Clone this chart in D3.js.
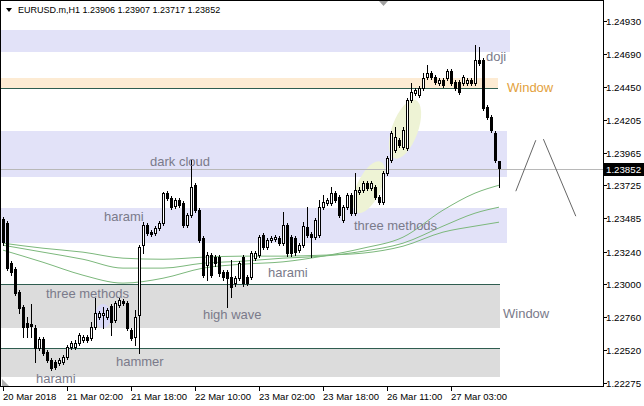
<!DOCTYPE html>
<html><head><meta charset="utf-8">
<script src="https://cdn.jsdelivr.net/npm/d3@7"></script>
<style>body{margin:0;background:#fff}svg{display:block}text{font-family:"Liberation Sans",Arial,sans-serif}</style>
</head><body><svg id="c" width="644" height="406"></svg>
<script>
// ---- data (EURUSD.m H1) ----
const symbolTitle = "EURUSD.m,H1";
const headerOHLC = ["1.23906","1.23907","1.23717","1.23852"];
const opens=[1.23478,1.23449,1.23155,1.23111,1.22942,1.22833,1.22715,1.22708,1.22679,1.22532,
1.22598,1.22502,1.22444,1.22429,1.22422,1.22429,1.22466,1.22539,1.22539,1.22569,
1.22591,1.22613,1.22605,1.22686,1.22759,1.22774,1.22759,1.22840,1.22737,1.22847,
1.22877,1.22862,1.22664,1.22613,1.22774,1.23287,1.23434,1.23383,1.23375,1.23412,
1.23449,1.23669,1.23632,1.23573,1.23617,1.23595,1.23434,1.23507,1.23727,1.23544,
1.23339,1.23140,1.23214,1.23199,1.23199,1.23089,1.23089,1.23052,1.23009,1.23045,
1.23199,1.23052,1.23052,1.23192,1.23214,1.23361,1.23273,1.23324,1.23331,1.23339,
1.23302,1.23434,1.23346,1.23339,1.23251,1.23287,1.23419,1.23368,1.23346,1.23361,
1.23566,1.23595,1.23595,1.23669,1.23639,1.23471,1.23566,1.23654,1.23522,1.23676,
1.23691,1.23742,1.23705,1.23713,1.23639,1.23603,1.23815,1.23911,1.23984,1.24057,
1.24006,1.23999,1.24351,1.24402,1.24387,1.24439,1.24519,1.24549,1.24519,1.24475,
1.24497,1.24512,1.24563,1.24483,1.24483,1.24475,1.24475,1.24497,1.24475,1.24644,
1.24644,1.24299,1.24226,1.24109,1.23906];
const highs=[1.23493,1.23464,1.23170,1.23126,1.22957,1.22847,1.22759,1.22855,1.22701,1.22613,
1.22613,1.22517,1.22459,1.22444,1.22459,1.22480,1.22554,1.22583,1.22591,1.22642,
1.22627,1.22627,1.22722,1.22899,1.22803,1.22833,1.22825,1.22855,1.22877,1.22899,
1.22891,1.22877,1.22679,1.22811,1.23287,1.23456,1.23449,1.23397,1.23427,1.23464,
1.23676,1.23684,1.23647,1.23632,1.23632,1.23610,1.23522,1.23911,1.23742,1.23559,
1.23353,1.23236,1.23229,1.23214,1.23214,1.23104,1.23104,1.23177,1.23060,1.23170,
1.23214,1.23067,1.23243,1.23243,1.23361,1.23375,1.23339,1.23353,1.23361,1.23353,
1.23529,1.23449,1.23361,1.23353,1.23302,1.23456,1.23566,1.23383,1.23485,1.23617,
1.23654,1.23632,1.23713,1.23684,1.23654,1.23581,1.23669,1.23669,1.23815,1.23713,
1.23757,1.23757,1.23757,1.23727,1.23654,1.23830,1.23940,1.24124,1.24153,1.24072,
1.24153,1.24365,1.24475,1.24439,1.24453,1.24549,1.24607,1.24563,1.24534,1.24512,
1.24512,1.24578,1.24578,1.24497,1.24497,1.24534,1.24512,1.24512,1.24754,1.24739,
1.24659,1.24314,1.24241,1.24124,1.23907];
const lows=[1.23287,1.23104,1.23067,1.22920,1.22789,1.22613,1.22613,1.22613,1.22429,1.22517,
1.22480,1.22429,1.22371,1.22378,1.22407,1.22415,1.22451,1.22525,1.22525,1.22554,
1.22576,1.22576,1.22591,1.22671,1.22745,1.22679,1.22745,1.22627,1.22722,1.22833,
1.22847,1.22664,1.22591,1.22554,1.22495,1.23229,1.23361,1.23353,1.23361,1.23397,
1.23434,1.23617,1.23551,1.23559,1.23566,1.23419,1.23419,1.23493,1.23529,1.23309,
1.23052,1.23031,1.23052,1.23133,1.23060,1.23031,1.22833,1.22906,1.22987,1.23031,
1.22987,1.22994,1.23038,1.23177,1.23199,1.23258,1.23258,1.23309,1.23317,1.23287,
1.23287,1.23207,1.23207,1.23214,1.23236,1.23273,1.23346,1.23199,1.23331,1.23346,
1.23551,1.23581,1.23581,1.23603,1.23493,1.23456,1.23551,1.23507,1.23507,1.23661,
1.23676,1.23691,1.23691,1.23625,1.23588,1.23588,1.23801,1.23896,1.23969,1.24006,
1.23991,1.23984,1.24336,1.24387,1.24373,1.24424,1.24505,1.24505,1.24468,1.24461,
1.24446,1.24497,1.24461,1.24424,1.24395,1.24461,1.24461,1.24461,1.24461,1.24607,
1.24277,1.24211,1.24116,1.23896,1.23717];
const closes=[1.23309,1.23119,1.23089,1.22935,1.22825,1.22686,1.22686,1.22693,1.22532,1.22598,
1.22495,1.22444,1.22386,1.22393,1.22444,1.22466,1.22539,1.22569,1.22569,1.22627,
1.22613,1.22591,1.22686,1.22789,1.22789,1.22789,1.22811,1.22722,1.22862,1.22884,
1.22862,1.22679,1.22605,1.22759,1.23273,1.23434,1.23375,1.23368,1.23412,1.23449,
1.23669,1.23632,1.23566,1.23617,1.23581,1.23434,1.23507,1.23713,1.23544,1.23324,
1.23067,1.23214,1.23067,1.23155,1.23082,1.23052,1.23045,1.22979,1.23045,1.23155,
1.23009,1.23009,1.23229,1.23229,1.23346,1.23273,1.23324,1.23339,1.23346,1.23302,
1.23434,1.23229,1.23229,1.23236,1.23287,1.23427,1.23361,1.23346,1.23471,1.23566,
1.23603,1.23617,1.23669,1.23617,1.23507,1.23566,1.23654,1.23522,1.23691,1.23691,
1.23742,1.23705,1.23742,1.23639,1.23603,1.23815,1.23925,1.24109,1.24079,1.24021,
1.24131,1.24351,1.24409,1.24424,1.24439,1.24512,1.24549,1.24519,1.24483,1.24497,
1.24461,1.24563,1.24475,1.24439,1.24409,1.24519,1.24497,1.24475,1.24644,1.24622,
1.24292,1.24226,1.24131,1.23911,1.23852];

const yTickValues=[1.24930,1.24690,1.24450,1.24205,1.23965,1.23725,1.23485,1.23240,1.23000,1.22760,1.22520,1.22275];
const yTickLabels=["1.24930","1.24690","1.24450","1.24205","1.23965","1.23725","1.23485","1.23240","1.23000","1.22760","1.22520","1.22275"];
const xTickIndex=[0,16,32,48,64,80,96,112];
const xTickLabels=["20 Mar 2018","21 Mar 02:00","21 Mar 18:00","22 Mar 10:00","23 Mar 02:00","23 Mar 18:00","26 Mar 11:00","27 Mar 03:00"];
const currentPrice=1.23852;
const currentLabel="1.23852";

// moving averages (read at sampled bars)
const maIndex=[0,10,20,30,40,50,60,70,80,90,100,110,118,124];
const maFast=[1.23251,1.23162,1.23067,1.23009,1.23045,1.23119,1.23148,1.23165,1.23207,1.23265,1.23346,1.23544,1.23669,1.23727];
const maMid =[1.23287,1.23236,1.23184,1.23119,1.23119,1.23155,1.23170,1.23192,1.23207,1.23243,1.23302,1.23427,1.23522,1.23566];
const maSlow=[1.23302,1.23265,1.23236,1.23192,1.23184,1.23199,1.23207,1.23207,1.23214,1.23229,1.23280,1.23383,1.23427,1.23456];

// zones (price rectangles)
const zoneHigh=[1.24864,1.24512,1.24124,1.23559,1.23001,1.22532];
const zoneLow =[1.24703,1.24439,1.23786,1.23302,1.22679,1.22319];
const zoneEnd =[126.75,123.75,126,126,124.25,124.25];
const zoneKind=["lav","peach","lav","lav","gray","gray"];
// horizontal levels
const levelPrice=[1.24439,1.23001,1.22532];
const levelEnd=[123.75,124.25,124.25];
// ellipses
const ellIndex=[100.5,91.5,25];
const ellPrice=[1.24138,1.23713,1.22767];
const ellKind=["green","green","lav"];
// zigzag
const zigIndex=[[128.2,133.2],[135.1,143.2]];
const zigPrice=[[1.23683,1.24057],[1.24065,1.23500]];
// labels
const labelText=["doji","Window","dark cloud","harami","three methods","harami","three methods","high wave","Window","hammer","harami"];
const labelIndex=[120.75,126,36.75,25.25,87.75,66.25,10.75,50,125,28.25,8.25];
const labelPrice=[1.24637,1.24409,1.23867,1.23464,1.23397,1.23052,1.22899,1.22745,1.22752,1.22400,1.22276];
const labelKind=["n","w","n","n","n","n","n","n","n","n","n"];

// ---- drawing ----
const svg=d3.select("#c");
const W=644,H=406,plotR=603,plotB=386;
svg.append("rect").attr("width",W).attr("height",H).attr("fill","#fff");
const x=d3.scaleLinear().domain([0,124]).range([3,499]);
const y=d3.scaleLinear().domain([1.22275,1.24930]).range([383.2,21.2]);

svg.append("defs").append("clipPath").attr("id","pc").append("rect")
  .attr("x",1).attr("y",1).attr("width",plotR-1).attr("height",plotB-1);
const g=svg.append("g").attr("clip-path","url(#pc)");

const zoneFill={lav:"#e2e2f8",peach:"#fdebd3",gray:"#dcdcdc"};
g.selectAll("rect.zone").data(d3.range(zoneHigh.length)).join("rect")
  .attr("x",x(-0.75)).attr("width",i=>x(zoneEnd[i])-x(-0.75))
  .attr("y",i=>Math.round(y(zoneHigh[i]))).attr("height",i=>Math.round(y(zoneLow[i]))-Math.round(y(zoneHigh[i])))
  .attr("fill",i=>zoneFill[zoneKind[i]]);

const ellFill={green:"#eef3d5",lav:"#d8d8f6"};
const ellR=[[13,31,20],[12,28,25],[8,12,0]];
g.selectAll("ellipse").data(d3.range(ellIndex.length)).join("ellipse")
  .attr("transform",i=>`translate(${x(ellIndex[i])},${y(ellPrice[i])}) rotate(${ellR[i][2]})`)
  .attr("rx",i=>ellR[i][0]).attr("ry",i=>ellR[i][1])
  .attr("fill",i=>ellFill[ellKind[i]]);

// current price line
const cpy=Math.round(y(currentPrice))+1.5;
g.append("line").attr("x1",0).attr("x2",plotR).attr("y1",cpy).attr("y2",cpy).attr("stroke","#b8b8b8");

// levels
g.selectAll("line.lvl").data(d3.range(levelPrice.length)).join("line")
  .attr("x1",0).attr("x2",i=>x(levelEnd[i]))
  .attr("y1",i=>Math.round(y(levelPrice[i]))+0.5).attr("y2",i=>Math.round(y(levelPrice[i]))+0.5)
  .attr("stroke","#2f5d50");

// MAs
const maLine=d3.line().x((d,i)=>x(maIndex[i])).y(d=>y(d)).curve(d3.curveMonotoneX);
[maFast,maMid,maSlow].forEach(s=>{
  g.append("path").attr("d",maLine(s)).attr("fill","none").attr("stroke","#7cb87c").attr("stroke-width",1);
});

// zigzag
zigIndex.forEach((seg,k)=>{
  g.append("line").attr("x1",x(seg[0])).attr("x2",x(seg[1]))
   .attr("y1",y(zigPrice[k][0])).attr("y2",y(zigPrice[k][1]))
   .attr("stroke","#666").attr("stroke-width",1);
});

// candles
const cg=g.append("g").attr("shape-rendering","crispEdges");
d3.range(opens.length).forEach(i=>{
  const cx=Math.round(x(i));
  const o=Math.round(y(opens[i])),c=Math.round(y(closes[i]));
  const hi=Math.round(y(highs[i])),lo=Math.round(y(lows[i]));
  const top=Math.min(o,c),bot=Math.max(o,c);
  cg.append("rect").attr("x",cx).attr("y",hi).attr("width",1).attr("height",lo-hi+1).attr("fill","#000");
  cg.append("rect").attr("x",cx-1).attr("y",top).attr("width",3).attr("height",Math.max(1,bot-top+1)).attr("fill","#000");
  if(closes[i]>=opens[i] && bot-top>=2){
    cg.append("rect").attr("x",cx).attr("y",top+1).attr("width",1).attr("height",bot-top-1).attr("fill","#fff");
  }
});

// labels
g.selectAll("text.lbl").data(d3.range(labelText.length)).join("text")
  .attr("x",i=>x(labelIndex[i])).attr("y",i=>y(labelPrice[i]))
  .attr("font-size",13).attr("fill",i=>labelKind[i]==="w"?"#e3a13c":"#7a7a8a")
  .text(i=>labelText[i]);

// frame
svg.append("rect").attr("x",0.5).attr("y",0.5).attr("width",plotR).attr("height",plotB)
  .attr("fill","none").attr("stroke","#000").attr("shape-rendering","crispEdges");

// y axis ticks
const yt=svg.append("g");
yTickValues.forEach((v,k)=>{
  const yy=Math.round(y(v))+0.5;
  yt.append("line").attr("x1",plotR+0.5).attr("x2",plotR+4).attr("y1",yy).attr("y2",yy).attr("stroke","#000");
  yt.append("text").attr("x",606).attr("y",yy).attr("dy","0.35em").attr("font-size",9.7).attr("fill","#000").text(yTickLabels[k]);
});
// current price box
svg.append("rect").attr("x",plotR+1).attr("y",cpy-6.5).attr("width",W-plotR-1).attr("height",13).attr("fill","#000");
svg.append("text").attr("x",606).attr("y",cpy).attr("dy","0.35em").attr("font-size",9.7).attr("fill","#fff").text(currentLabel);

// x axis ticks
xTickIndex.forEach((idx,k)=>{
  const xx=Math.round(x(idx))+0.5;
  svg.append("line").attr("x1",xx).attr("x2",xx).attr("y1",plotB+0.5).attr("y2",plotB+5).attr("stroke","#000");
  svg.append("text").attr("x",xx-0.5).attr("y",400).attr("font-size",9.5).attr("fill","#000").text(xTickLabels[k]);
});

// header
svg.append("path").attr("d","M6,8 L12,8 L9,12 Z").attr("fill","#000");
svg.append("text").attr("x",18).attr("y",13).attr("font-size",9).attr("fill","#000")
  .text(symbolTitle+"  "+headerOHLC.join(" "));
// chart shift marker & corner marker
svg.append("path").attr("d","M379,1 L388,1 L383.5,6 Z").attr("fill","#a0a0a0");
svg.append("path").attr("d","M2,379 L2,386 L9,386 Z").attr("fill","#b0b0b0");
</script></body></html>
